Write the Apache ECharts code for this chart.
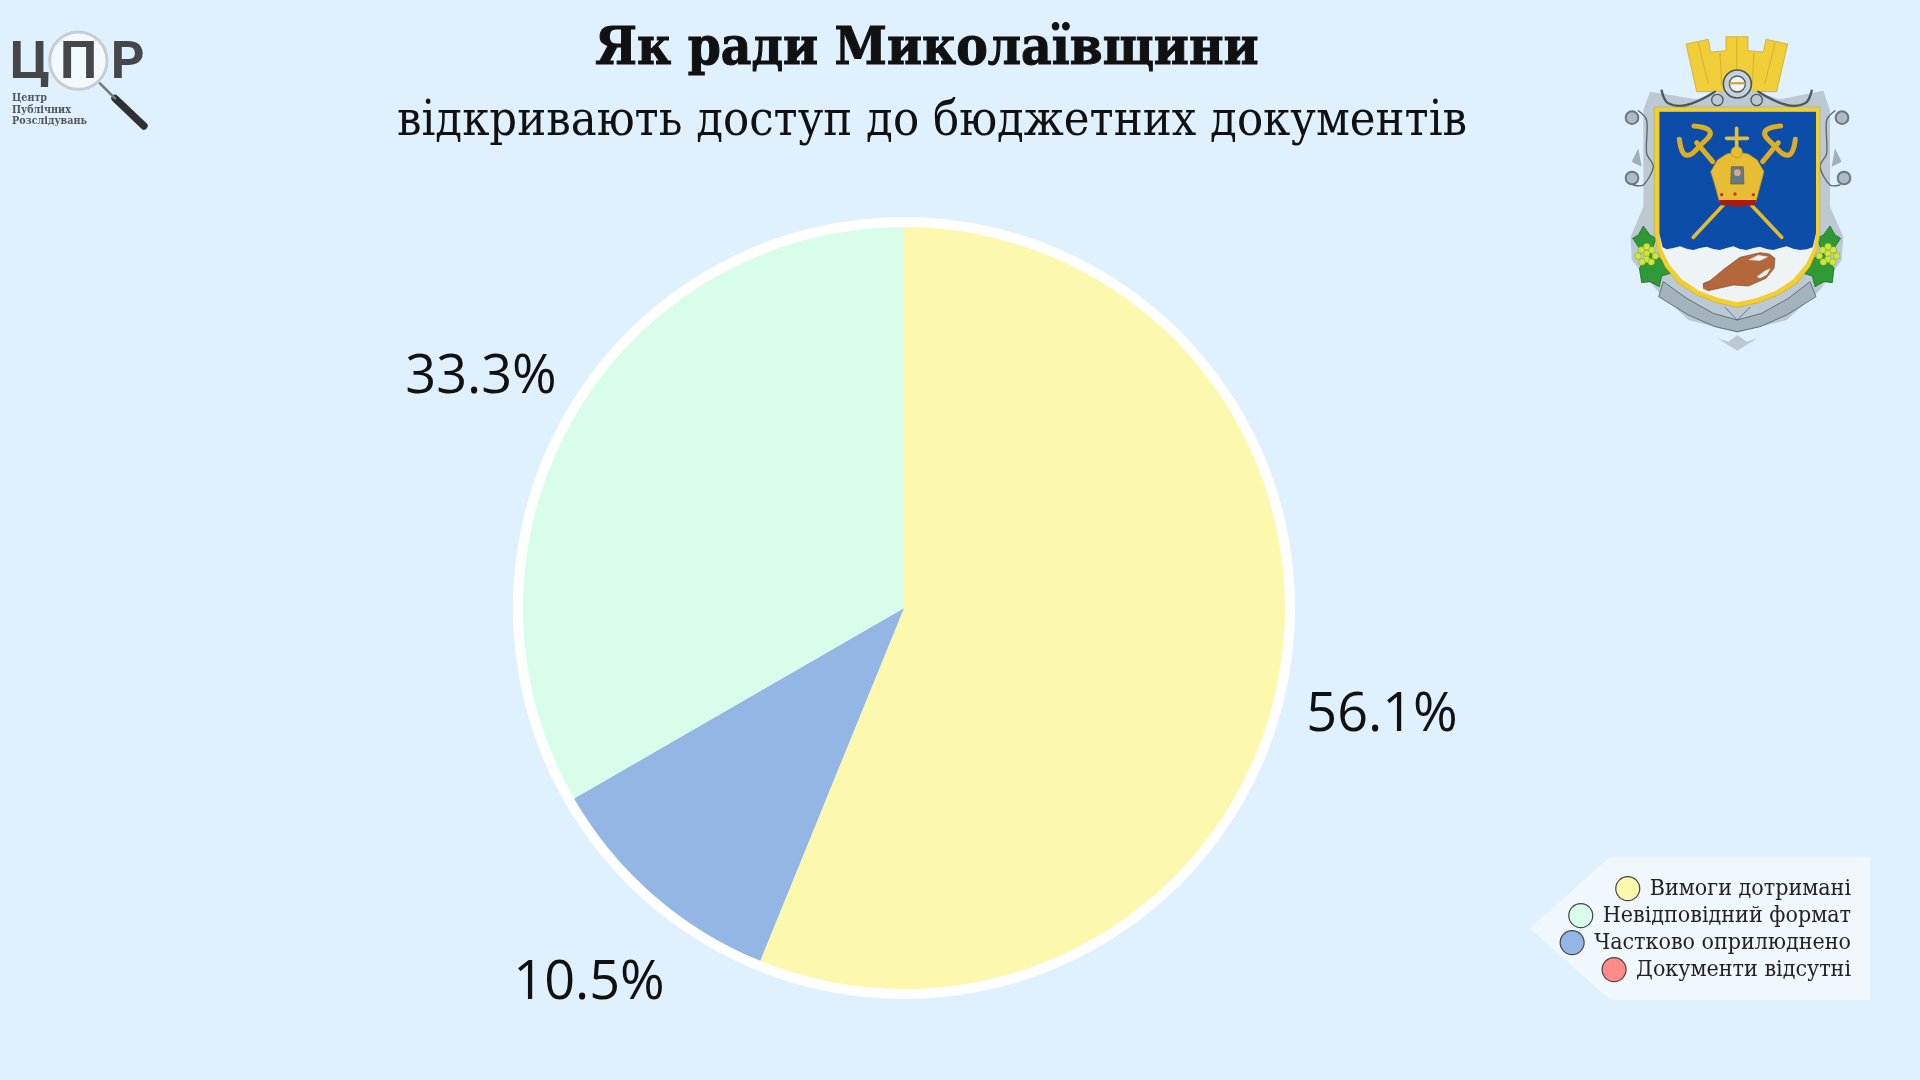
<!DOCTYPE html>
<html>
<head>
<meta charset="utf-8">
<title>Як ради Миколаївщини</title>
<style>html,body{margin:0;padding:0;background:#dff1ff}#main{width:1920px;height:1080px}</style>
<script src="https://cdn.jsdelivr.net/npm/echarts@6/dist/echarts.min.js"></script>
</head>
<body>
<div id="main"></div>
<script>
const titleText = 'Як ради Миколаївщини';
const subtitleText = 'відкривають доступ до бюджетних документів';
const categories = ['Вимоги дотримані', 'Частково оприлюднено', 'Невідповідний формат', 'Документи відсутні'];
const values = [56.1, 10.5, 33.3, 0];
const colors = ['#fcf8ad', '#94b6e4', '#d8fdeb', '#ff8a8a'];
const legendOrder = ['Вимоги дотримані', 'Невідповідний формат', 'Частково оприлюднено', 'Документи відсутні'];
const labelSpots = [[1382, 716], [589, 984], [481, 378], null];

const slab = '"DejaVu Serif Condensed", "DejaVu Serif", serif';

// helpers for the two emblems, drawn as plain decoration
const poly = (points, fill, stroke, lineWidth, smooth) => ({
	type: 'polygon', silent: true,
	shape: {points: points, smooth: smooth || 0},
	style: {fill: fill, stroke: stroke || null, lineWidth: lineWidth || 0}
});
const line = (points, stroke, lineWidth, smooth) => ({
	type: 'polyline', silent: true,
	shape: {points: points, smooth: smooth || 0},
	style: {fill: null, stroke: stroke, lineWidth: lineWidth, lineCap: 'round'}
});
const circle = (cx, cy, r, fill, stroke, lineWidth) => ({
	type: 'circle', silent: true,
	shape: {cx: cx, cy: cy, r: r},
	style: {fill: fill, stroke: stroke || null, lineWidth: lineWidth || 0}
});
const txt = (x, y, text, font, fill) => ({
	type: 'text', silent: true, x: x, y: y,
	style: {text: text, font: font, fill: fill, verticalAlign: 'top'}
});

// logo, coordinates are 3x zoomed, origin 0,20
const logo = {
	type: 'group', x: 0, y: 20, scaleX: 1 / 3, scaleY: 1 / 3,
	children: [
		line([[345, 235], [432, 318]], '#2f3032', 22),
		line([[300, 190], [345, 235]], '#77797c', 8),
		txt(30, 56, 'Ц', 'bold 158px Roboto, sans-serif', '#46474a'),
		txt(332, 56, 'Р', 'bold 158px Roboto, sans-serif', '#46474a'),
		circle(235, 122, 86, 'rgba(255,255,255,0.62)', '#c9cdcf', 9),
		txt(180, 56, 'П', 'bold 158px Roboto, sans-serif', '#46474a'),
		txt(36, 220, 'Центр', 'bold 32px ' + slab, '#55565a'),
		txt(36, 254, 'Публічних', 'bold 32px ' + slab, '#55565a'),
		txt(36, 288, 'Розслідувань', 'bold 32px ' + slab, '#55565a')
	]
};

// coat of arms, coordinates are 3x zoomed, origin 1600,20
const shieldOuter = [[163, 261], [660, 261], [660, 640], [652, 690], [630, 740], [590, 790], [535, 825], [475, 848], [412, 862], [350, 848], [290, 825], [235, 790], [195, 740], [172, 690], [163, 640]];
const shieldInner = [[178, 275], [648, 275], [648, 640], [640, 686], [618, 732], [580, 778], [528, 812], [470, 834], [412, 847], [355, 834], [297, 812], [245, 778], [207, 732], [185, 686], [178, 640]];
const waveTop = [[638, 682], [620, 688], [600, 690], [580, 686], [560, 679], [540, 684], [520, 690], [500, 687], [480, 680], [460, 684], [440, 690], [420, 687], [400, 679], [380, 684], [360, 690], [340, 687], [320, 680], [300, 684], [280, 690], [260, 686], [240, 679], [220, 684], [200, 688], [188, 682]];
const blueField = [[178, 275], [648, 275], [648, 640]].concat(waveTop, [[178, 640]]);
const grapes = (cx, cy) => [[0, 0], [-16, -10], [16, -10], [-26, 8], [0, 18], [26, 8], [-14, 26], [14, 26], [0, -20]]
	.map((d) => circle(cx + d[0], cy + d[1], 10, '#cfe63f', '#7f9f1e', 1.5));
const leaf = (pts) => poly(pts, '#2f9a35', '#145a1c', 2);
const arms = {
	type: 'group', x: 1600, y: 20, scaleX: 1 / 3, scaleY: 1 / 3,
	children: [
		// wheat crown
		poly([[258, 72], [325, 58], [332, 96], [378, 92], [378, 50], [444, 50], [444, 92], [490, 96], [498, 58], [563, 72], [530, 215], [290, 215]], '#f0ce3a', '#c9a020', 2),
		line([[410, 55], [410, 170]], '#c9a020', 2),
		line([[295, 70], [325, 190]], '#c9a020', 2),
		line([[525, 70], [495, 190]], '#c9a020', 2),
		line([[360, 100], [365, 190]], '#c9a020', 2),
		line([[462, 100], [457, 190]], '#c9a020', 2),
		// silver mantle
		poly([[150, 215], [290, 238], [412, 200], [540, 238], [670, 212], [690, 270], [690, 560], [730, 650], [725, 720], [660, 810], [560, 900], [412, 938], [265, 900], [170, 810], [95, 720], [92, 650], [130, 560], [130, 270]], '#bcc9d2', null, 0),
		poly([[190, 785], [260, 835], [340, 880], [412, 900], [485, 880], [565, 835], [630, 785], [648, 830], [560, 885], [480, 920], [412, 935], [345, 920], [265, 885], [176, 830]], '#a2b3be', '#3d4a52', 2),
		line([[375, 862], [412, 900], [450, 862]], '#3d4a52', 2),
		poly([[352, 955], [385, 965], [412, 945], [440, 965], [472, 955], [412, 992]], '#bcc9d2', null, 0),
		line([[185, 212], [205, 250], [260, 255], [345, 215]], '#4a5860', 7, 0.4),
		line([[635, 212], [615, 250], [560, 255], [475, 215]], '#4a5860', 7, 0.4),
		circle(412, 192, 42, '#c6d2da', '#4a5860', 5),
		circle(412, 192, 24, '#f0f4f6', '#4a5860', 4),
		line([[390, 190], [434, 190]], '#c9a020', 6),
		circle(352, 240, 17, null, '#4a5860', 4),
		circle(470, 240, 17, null, '#4a5860', 4),
		circle(96, 293, 19, '#aebbc4', '#6a7880', 6),
		circle(726, 293, 19, '#aebbc4', '#6a7880', 6),
		circle(96, 474, 19, '#aebbc4', '#6a7880', 6),
		circle(732, 474, 19, '#aebbc4', '#6a7880', 6),
		line([[115, 272], [140, 300], [140, 400], [160, 440], [130, 495], [100, 495]], '#5a6870', 4, 0.3),
		line([[705, 272], [680, 300], [680, 400], [660, 440], [690, 495], [720, 495]], '#5a6870', 4, 0.3),
		poly([[95, 425], [115, 385], [125, 440]], '#9fb0bb', null, 0),
		poly([[725, 425], [705, 385], [695, 440]], '#9fb0bb', null, 0),
		// grape leaves
		leaf([[98, 655], [115, 645], [130, 618], [150, 645], [168, 655], [158, 685], [118, 685]]),
		leaf([[722, 655], [705, 645], [690, 618], [670, 645], [652, 655], [662, 685], [702, 685]]),
		leaf([[118, 745], [150, 700], [180, 715], [212, 760], [185, 768], [178, 800], [150, 785], [125, 788]]),
		leaf([[702, 745], [670, 700], [640, 715], [610, 760], [637, 768], [645, 800], [672, 785], [697, 788]])
	].concat(grapes(140, 700), grapes(684, 700), [
		// shield
		poly(shieldOuter, '#f2cf2e', '#a98c10', 1),
		poly(shieldInner, '#eef3f6', null, 0),
		poly(blueField, '#0b4da8', null, 0),
		// crossed staffs
		line([[280, 652], [372, 553]], '#e2bb2e', 11),
		line([[545, 652], [452, 553]], '#e2bb2e', 11),
		line([[338, 425], [290, 368]], '#d9ae28', 15),
		line([[488, 425], [535, 368]], '#d9ae28', 15),
		line([[238, 358], [258, 405], [305, 372], [330, 335], [282, 318]], '#d9ae28', 15, 0.5),
		line([[586, 358], [566, 405], [518, 372], [495, 335], [542, 318]], '#d9ae28', 15, 0.5),
		// mitre
		poly([[332, 455], [352, 420], [380, 402], [412, 395], [445, 402], [472, 420], [492, 455], [480, 500], [468, 545], [358, 545], [346, 500]], '#e6bd35', '#b08a18', 2),
		poly([[356, 540], [470, 540], [462, 556], [412, 560], [364, 556]], '#a81c10', null, 0),
		poly([[394, 440], [430, 440], [432, 492], [392, 492]], '#5e7a8c', '#7a5a20', 2),
		circle(412, 458, 10, '#d9a880', null, 0),
		circle(405, 522, 5, '#c8321c', null, 0),
		circle(365, 524, 5, '#c8321c', null, 0),
		circle(460, 524, 5, '#c8321c', null, 0),
		circle(410, 396, 17, '#e6bd35', '#b08a18', 2),
		line([[410, 325], [410, 378]], '#e6bd35', 11),
		line([[380, 355], [442, 355]], '#e6bd35', 11),
		// amphora
		poly([[310, 790], [330, 782], [375, 745], [420, 712], [480, 698], [508, 702], [525, 715], [522, 745], [498, 775], [445, 798], [400, 795], [325, 812], [310, 805]], '#b4673a', '#8a4a26', 2),
		poly([[445, 720], [475, 705], [505, 710], [480, 722]], '#eef3f6', null, 0),
		poly([[470, 770], [495, 752], [512, 745], [500, 765], [480, 775]], '#eef3f6', null, 0)
	])
};

// legend plate, coordinates are 3x zoomed, origin 1500,840
const plate = {
	type: 'group', x: 1500, y: 840, scaleX: 1 / 3, scaleY: 1 / 3,
	children: [poly([[90, 265], [330, 50], [1110, 50], [1110, 480], [330, 480]], '#f0f8fe', null, 0)]
};

const legendTops = [871, 898, 925, 952];

const option = {
	backgroundColor: '#dff1ff',
	animation: false,
	color: colors,
	title: [
		{
			text: titleText, left: 922, top: 19, textAlign: 'center',
			textStyle: {fontFamily: slab, fontWeight: 'bold', fontSize: 52.6, color: '#111', textBorderColor: '#111', textBorderWidth: 1}
		},
		{
			text: subtitleText, left: 927, top: 93, textAlign: 'center',
			textStyle: {fontFamily: slab, fontWeight: 'normal', fontSize: 48.4, color: '#111'}
		}
	],
	// one legend per row so each row stays flush right
	legend: legendOrder.map((name, i) => ({
		data: [name],
		right: 64,
		top: legendTops[i],
		orient: 'horizontal',
		itemWidth: 24,
		itemHeight: 24,
		itemGap: 0,
		selectedMode: false,
		icon: 'circle',
		itemStyle: {borderColor: '#444', borderWidth: 1.2},
		textStyle: {fontFamily: slab, fontSize: 23, color: '#222', padding: [0, 0, 0, 5]}
	})),
	graphic: [plate, logo, arms],
	series: [
		{
			// white ring behind the pie
			type: 'pie',
			silent: true,
			center: [904, 608],
			radius: [0, 391],
			z: 1,
			legendHoverLink: false,
			label: {show: false},
			labelLine: {show: false},
			itemStyle: {color: '#ffffff'},
			data: [{value: 1, name: ''}]
		},
		{
			type: 'pie',
			center: [904, 608],
			radius: [0, 381],
			startAngle: 90,
			z: 2,
			minShowLabelAngle: 0.1,
			stillShowZeroSum: false,
			labelLine: {show: false},
			label: {
				show: true,
				position: 'outside',
				fontFamily: '"Open Sans", sans-serif',
				fontSize: 54,
				color: '#111',
				formatter: (p) => p.value.toFixed(1) + '%'
			},
			labelLayout: (p) => {
				const spot = labelSpots[p.dataIndex];
				return spot ? {x: spot[0], y: spot[1], align: 'center', verticalAlign: 'middle'} : {};
			},
			data: categories.map((name, i) => ({
				name: name,
				value: values[i],
				label: {show: values[i] > 0}
			}))
		}
	]
};

const chart = echarts.init(document.getElementById('main'));
chart.setOption(option);
</script>
</body>
</html>
